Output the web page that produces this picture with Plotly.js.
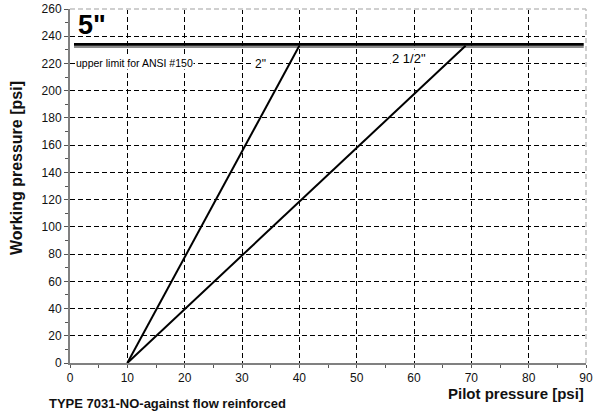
<!DOCTYPE html>
<html>
<head>
<meta charset="utf-8">
<script src="https://cdn.plot.ly/plotly-3.0.1.min.js"></script>
<style>html,body{margin:0;padding:0;background:#fff;}#chart{width:594px;height:411px;}</style>
</head>
<body>
<div id="chart"></div>
<script>
// Data
const line2X = [10, 40];
const line2Y = [0, 233];
const line25X = [10, 69];
const line25Y = [0, 233];
const limitX = [0.7, 89.6];
const limitBlackY = [234, 234];
const limitGrayY = [232.3, 232.3];
const xTicks = [0, 10, 20, 30, 40, 50, 60, 70, 80, 90];
const yTicks = [0, 20, 40, 60, 80, 100, 120, 140, 160, 180, 200, 220, 240, 260];

const FONT = 'Liberation Sans, Arial, sans-serif';

const traces = [
  {x: limitX, y: limitGrayY, mode: 'lines', line: {color: '#8c8c8c', width: 2.5}, hoverinfo: 'skip'},
  {x: limitX, y: limitBlackY, mode: 'lines', line: {color: '#000', width: 2.7}, hoverinfo: 'skip'},
  {x: line2X, y: line2Y, mode: 'lines', line: {color: '#000', width: 2}, name: '2"'},
  {x: line25X, y: line25Y, mode: 'lines', line: {color: '#000', width: 2}, name: '2 1/2"'}
];

const layout = {
  width: 594, height: 411,
  margin: {l: 70, r: 8, t: 9, b: 48},
  paper_bgcolor: '#fff', plot_bgcolor: '#fff',
  showlegend: false,
  font: {family: FONT, size: 12, color: '#111'},
  xaxis: {
    range: [0, 90], tickvals: xTicks, ticktext: xTicks.map(String),
    showgrid: true, gridcolor: '#000', griddash: '5px,3px', gridwidth: 1,
    zeroline: false, showline: true, linecolor: '#808080', linewidth: 2,
    ticks: 'outside', ticklen: 3, tickcolor: '#555',
    minor: {dtick: 5, ticks: 'outside', ticklen: 3, tickcolor: '#555', showgrid: false},
    tickfont: {size: 12, family: FONT, color: '#111'}
  },
  yaxis: {
    range: [0, 260], tickvals: yTicks, ticktext: yTicks.map(String),
    showgrid: true, gridcolor: '#000', griddash: '5px,3px', gridwidth: 1,
    zeroline: false, showline: true, linecolor: '#808080', linewidth: 2,
    ticks: 'outside', ticklen: 4, tickcolor: '#555',
    minor: {dtick: 10, ticks: 'outside', ticklen: 3, tickcolor: '#555', showgrid: false},
    tickfont: {size: 12, family: FONT, color: '#111'}
  },
  shapes: [
    {type: 'line', xref: 'paper', yref: 'paper', x0: 0, x1: 1, y0: 1, y1: 1, line: {color: '#fff', width: 2}},
    {type: 'line', xref: 'paper', yref: 'paper', x0: 1, x1: 1, y0: 0, y1: 1, line: {color: '#fff', width: 2}},
    {type: 'line', xref: 'paper', yref: 'paper', x0: 0, x1: 1, y0: 1, y1: 1, line: {color: '#c0c0c0', width: 1.5, dash: '5px,3px'}},
    {type: 'line', xref: 'paper', yref: 'paper', x0: 1, x1: 1, y0: 0, y1: 1, line: {color: '#c0c0c0', width: 1.5, dash: '5px,3px'}}
  ],
  annotations: [
    {text: '<b>5"</b>', x: 1.0, y: 236, xref: 'x', yref: 'y', xanchor: 'left', yanchor: 'bottom', showarrow: false, font: {size: 27, family: FONT, color: '#000'}},
    {text: 'upper limit for ANSI #150', x: 0.9, y: 220, xref: 'x', yref: 'y', xanchor: 'left', yanchor: 'middle', showarrow: false, bgcolor: '#fff', borderpad: 0, font: {size: 10.5, family: FONT, color: '#000'}},
    {text: '2"', x: 33.2, y: 219.5, xref: 'x', yref: 'y', xanchor: 'center', yanchor: 'middle', showarrow: false, bgcolor: '#fff', borderpad: 1, font: {size: 12, family: FONT, color: '#000'}},
    {text: '2 1/2"', x: 59.2, y: 224, xref: 'x', yref: 'y', xanchor: 'center', yanchor: 'middle', showarrow: false, bgcolor: '#fff', borderpad: 1, font: {size: 13, family: FONT, color: '#000'}},
    {text: '<b>Pilot pressure [psi]</b>', x: 586, y: 393, xref: 'paper', yref: 'paper', showarrow: false, xanchor: 'right', yanchor: 'middle', font: {size: 15, family: FONT, color: '#111'}},
    {text: '<b>TYPE 7031-NO-against flow reinforced</b>', x: 47, y: 403, xref: 'paper', yref: 'paper', showarrow: false, xanchor: 'left', yanchor: 'middle', font: {size: 13, family: FONT, color: '#111'}},
    {text: '<b>Working pressure [psi]</b>', x: 16, y: 168, xref: 'paper', yref: 'paper', showarrow: false, textangle: -90, xanchor: 'center', yanchor: 'middle', font: {size: 16, family: FONT, color: '#111'}}
  ]
};
// convert pixel positions for the page-anchored annotations to paper coords
const plotW = 594 - 70 - 8, plotH = 411 - 9 - 48;
[4, 5, 6].forEach(i => {
  const a = layout.annotations[i];
  a.x = (a.x - 70) / plotW;
  a.y = (411 - 48 - a.y) / plotH;
});

Plotly.newPlot('chart', traces, layout, {displayModeBar: false, staticPlot: true});
</script>
</body>
</html>
